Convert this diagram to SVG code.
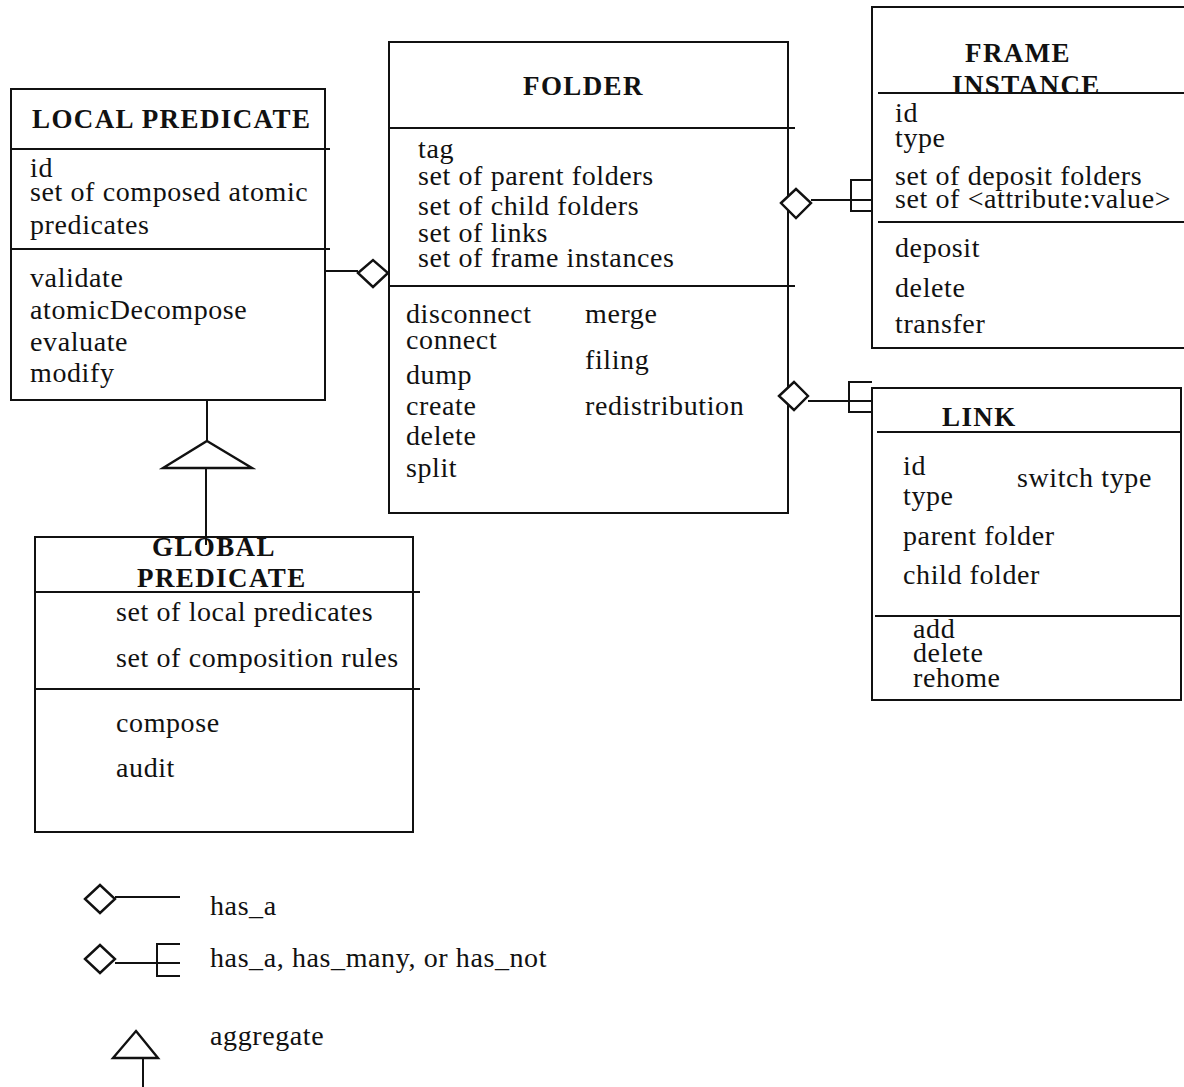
<svg xmlns="http://www.w3.org/2000/svg" width="1184" height="1087" viewBox="0 0 1184 1087">
  <style>
    .box { fill: none; stroke: #111; stroke-width: 2; }
    .ln { fill: none; stroke: #111; stroke-width: 2; }
    .dia { fill: #fff; stroke: #111; stroke-width: 2.4; }
    .tri { fill: #fff; stroke: #111; stroke-width: 2.4; stroke-linejoin: miter; }
    .title { font-family: "Liberation Serif", "Times New Roman", serif; font-weight: bold; font-size: 27px; letter-spacing: 1.4px; fill: #111; }
    .t { font-family: "Liberation Serif", "Times New Roman", serif; font-size: 28px; letter-spacing: 0.6px; fill: #111; }
  </style>
  <rect width="1184" height="1087" fill="#fff"/>

  <!-- LOCAL PREDICATE -->
  <g id="local-predicate">
    <rect class="box" x="11" y="89" width="314" height="311"/>
    <line class="ln" x1="11" y1="149" x2="330" y2="149"/>
    <line class="ln" x1="11" y1="249" x2="330" y2="249"/>
    <text class="title" x="32" y="128">LOCAL PREDICATE</text>
    <text class="t" x="30" y="177">id</text>
    <text class="t" x="30" y="201">set of composed atomic</text>
    <text class="t" x="30" y="234">predicates</text>
    <text class="t" x="30" y="287">validate</text>
    <text class="t" x="30" y="319">atomicDecompose</text>
    <text class="t" x="30" y="351">evaluate</text>
    <text class="t" x="30" y="382">modify</text>
  </g>

  <!-- FOLDER -->
  <g id="folder">
    <rect class="box" x="389" y="42" width="399" height="471"/>
    <line class="ln" x1="389" y1="128" x2="795" y2="128"/>
    <line class="ln" x1="389" y1="286" x2="795" y2="286"/>
    <text class="title" x="523" y="95">FOLDER</text>
    <text class="t" x="418" y="158">tag</text>
    <text class="t" x="418" y="185">set of parent folders</text>
    <text class="t" x="418" y="215">set of child folders</text>
    <text class="t" x="418" y="242">set of links</text>
    <text class="t" x="418" y="267">set of frame instances</text>
    <text class="t" x="406" y="323">disconnect</text>
    <text class="t" x="406" y="349">connect</text>
    <text class="t" x="406" y="384">dump</text>
    <text class="t" x="406" y="415">create</text>
    <text class="t" x="406" y="445">delete</text>
    <text class="t" x="406" y="477">split</text>
    <text class="t" x="585" y="323">merge</text>
    <text class="t" x="585" y="369">filing</text>
    <text class="t" x="585" y="415">redistribution</text>
  </g>

  <!-- FRAME INSTANCE (right side runs off the sheet) -->
  <g id="frame-instance">
    <polyline class="box" points="1184,7 872,7 872,348 1184,348"/>
    <line class="ln" x1="878" y1="93" x2="1184" y2="93"/>
    <line class="ln" x1="878" y1="222" x2="1184" y2="222"/>
    <text class="title" x="965" y="62">FRAME</text>
    <text class="title" x="952" y="94">INSTANCE</text>
    <text class="t" x="895" y="122">id</text>
    <text class="t" x="895" y="147">type</text>
    <text class="t" x="895" y="185">set of deposit folders</text>
    <text class="t" x="895" y="208">set of &lt;attribute:value&gt;</text>
    <text class="t" x="895" y="257">deposit</text>
    <text class="t" x="895" y="297">delete</text>
    <text class="t" x="895" y="333">transfer</text>
  </g>

  <!-- LINK -->
  <g id="link">
    <rect class="box" x="872" y="388" width="309" height="312"/>
    <line class="ln" x1="877" y1="432" x2="1181" y2="432"/>
    <line class="ln" x1="875" y1="616" x2="1181" y2="616"/>
    <text class="title" x="942" y="426">LINK</text>
    <text class="t" x="903" y="475">id</text>
    <text class="t" x="1017" y="487">switch type</text>
    <text class="t" x="903" y="505">type</text>
    <text class="t" x="903" y="545">parent folder</text>
    <text class="t" x="903" y="584">child folder</text>
    <text class="t" x="913" y="638">add</text>
    <text class="t" x="913" y="662">delete</text>
    <text class="t" x="913" y="687">rehome</text>
  </g>

  <!-- GLOBAL PREDICATE -->
  <g id="global-predicate">
    <rect class="box" x="35" y="537" width="378" height="295"/>
    <line class="ln" x1="35" y1="592" x2="420" y2="592"/>
    <line class="ln" x1="35" y1="689" x2="420" y2="689"/>
    <text class="title" x="152" y="556">GLOBAL</text>
    <text class="title" x="137" y="587">PREDICATE</text>
    <text class="t" x="116" y="621">set of local predicates</text>
    <text class="t" x="116" y="667">set of composition rules</text>
    <text class="t" x="116" y="732">compose</text>
    <text class="t" x="116" y="777">audit</text>
  </g>

  <!-- connectors -->
  <g id="connectors">
    <!-- local predicate has_a folder -->
    <line class="ln" x1="325" y1="271" x2="358" y2="271"/>
    <polygon class="dia" points="358,273 373,260 388,273 373,287"/>

    <!-- folder has_many frame instance -->
    <line class="ln" x1="811" y1="200" x2="872" y2="200"/>
    <polyline class="ln" points="872,180 851,180 851,211 872,211"/>
    <polygon class="dia" points="781,203 796,189 811,203 796,218"/>

    <!-- folder has_many link -->
    <line class="ln" x1="808" y1="401" x2="872" y2="401"/>
    <polyline class="ln" points="872,382 849,382 849,412 872,412"/>
    <polygon class="dia" points="779,396 794,382 808,396 794,410"/>

    <!-- global predicate aggregates local predicates -->
    <line class="ln" x1="207" y1="400" x2="207" y2="441"/>
    <polygon class="tri" points="207,441 252,468 163,468"/>
    <line class="ln" x1="206" y1="468" x2="206" y2="545"/>
  </g>

  <!-- legend -->
  <g id="legend">
    <polygon class="dia" points="85,899 100,885 115,899 100,913"/>
    <line class="ln" x1="115" y1="897" x2="180" y2="897"/>
    <text class="t" x="210" y="915">has_a</text>

    <polygon class="dia" points="85,959 100,945 115,959 100,973"/>
    <line class="ln" x1="115" y1="963" x2="180" y2="963"/>
    <polyline class="ln" points="180,944 157,944 157,976 180,976"/>
    <text class="t" x="210" y="967">has_a, has_many, or has_not</text>

    <polygon class="tri" points="136,1031 158,1058 113,1058"/>
    <line class="ln" x1="143" y1="1058" x2="143" y2="1087"/>
    <text class="t" x="210" y="1045">aggregate</text>
  </g>
</svg>
